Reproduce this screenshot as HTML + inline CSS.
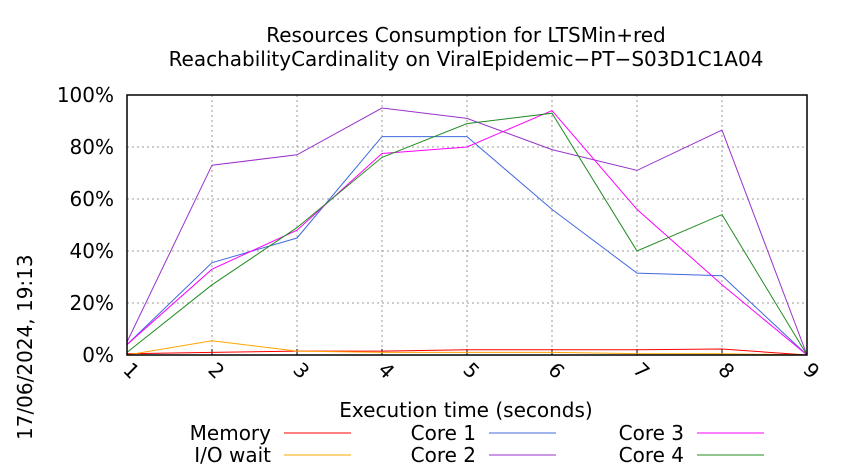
<!DOCTYPE html>
<html><head><meta charset="utf-8"><style>body{margin:0;background:#fff}svg{display:block;font-family:"DejaVu Sans","Liberation Sans",sans-serif}</style></head>
<body>
<svg id="chart" width="850" height="475">
<text x="466" y="42" text-anchor="middle" font-size="20">Resources Consumption for LTSMin+red</text>
<text x="466" y="66" text-anchor="middle" font-size="20">ReachabilityCardinality on ViralEpidemic−PT−S03D1C1A04</text>
<text transform="translate(32,440) rotate(-90)" font-size="20">17/06/2024, 19:13</text>
<text x="466" y="417" text-anchor="middle" font-size="20">Execution time (seconds)</text>
<g id="grid"></g><g id="series"></g>
<rect x="127" y="95" width="680" height="260" fill="none" stroke="#000" stroke-width="1.5"/>
<g id="legend"></g>
</svg>
<script>
const xCats=[1,2,3,4,5,6,7,8,9];
const yTicks=[0,20,40,60,80,100];
const memory=[0.5,1,1.5,1.5,2,2,2,2.3,0];
const ioWait=[0,5.5,1.5,1,1,1,0.5,0.5,0];
const core1=[4,35.5,45,84,84,56,31.5,30.5,0];
const core2=[5,73,77,95,91,79,71,86.5,0];
const core3=[4,33,48,77.5,80,94,56,27,0];
const core4=[1,27,49,76,89,93,40,54,0];
const NS="http://www.w3.org/2000/svg";
const X=v=>127+(v-1)*85, Y=v=>355-v*2.6;
function mk(t,a,p){const e=document.createElementNS(NS,t);for(const k in a)e.setAttribute(k,a[k]);p.appendChild(e);return e;}
const g=document.getElementById('grid');
yTicks.forEach(t=>{
 if(t>0&&t<100){const l=mk('line',{x1:127,x2:807,y1:Y(t),y2:Y(t),stroke:'#999','stroke-dasharray':'2,3'},g);
 
 }
 const tx=mk('text',{x:114,y:Y(t)+7,'text-anchor':'end','font-size':20},g);tx.textContent=t+'%';
 
 
});
xCats.forEach(c=>{
 if(c>1&&c<9){const l=mk('line',{x1:X(c),x2:X(c),y1:95,y2:355,stroke:'#999','stroke-dasharray':'2,3'},g);
 
 
 mk('line',{x1:X(c),x2:X(c),y1:349,y2:355,stroke:'#000'},g);}
 const tx=mk('text',{transform:`translate(${X(c)-5},371) rotate(45)`,'font-size':20},g);tx.textContent=c;
 
 
});
const series=[["Memory",memory,"#ff0000"],["I/O wait",ioWait,"#ffa500"],["Core 1",core1,"#4169e1"],["Core 2",core2,"#9932cc"],["Core 3",core3,"#ff00ff"],["Core 4",core4,"#228b22"]];
const s=document.getElementById('series');
series.forEach(([n,d,c])=>{
 const p=mk('polyline',{points:d.map((v,i)=>X(xCats[i])+','+Y(v)).join(' '),fill:'none',stroke:c,'stroke-width':1},s);
 
 
});
const lg=document.getElementById('legend');
const pos=[[271,440],[271,462],[476,440],[476,462],[684,440],[684,462]];
series.forEach(([n,d,c],i)=>{
 const [x,y]=pos[i];
 const t=mk('text',{x:x,y:y,'text-anchor':'end','font-size':20},lg);t.textContent=n;
 
 
 const l=mk('line',{x1:x+13,x2:x+80,y1:y-7,y2:y-7,stroke:c},lg);
 
 
});
</script>
</body></html>
